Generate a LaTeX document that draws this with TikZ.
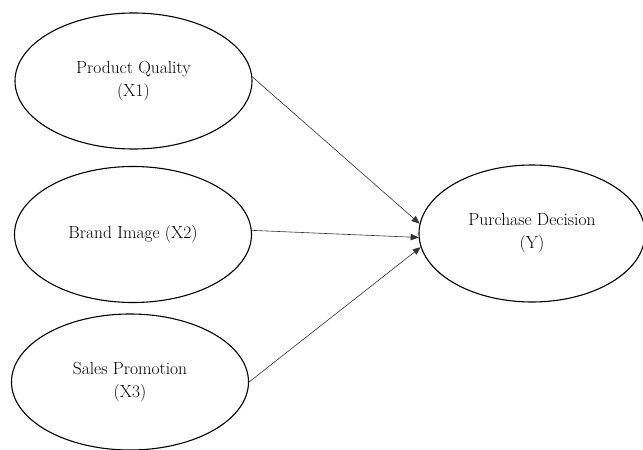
\documentclass[tikz,border=0pt]{standalone}
\usepackage{tikz}
\usetikzlibrary{arrows.meta,shapes.geometric}

\begin{document}
\begin{tikzpicture}[x=1pt, y=-1pt,
  construct/.style={draw=black, ellipse, line width=1.1pt, minimum width=237pt,
    minimum height=136pt, inner sep=0pt, align=center,
    font=\fontsize{17.5}{23}\selectfont},
  arrow/.style={-{Triangle[length=8pt, width=6.5pt]}, line width=0.6pt, draw=black!80}
]
\useasboundingbox (0,0) rectangle (643,450);

\node[construct] (quality) at (133.5,81) {Product Quality\\(X1)};
\node[construct] (brand) at (133,234.5) {Brand Image (X2)};
\node[construct] (promo) at (130,382) {Sales Promotion\\(X3)};
\node[construct, minimum width=226pt, minimum height=137pt] (decision) at (532,233.5) {Purchase Decision\\(Y)};

\draw[arrow] (quality.2) -- (decision.175);
\draw[arrow] (brand.2) -- (decision.182);
\draw[arrow] (promo.east) -- (decision.187);
\end{tikzpicture}
\end{document}
